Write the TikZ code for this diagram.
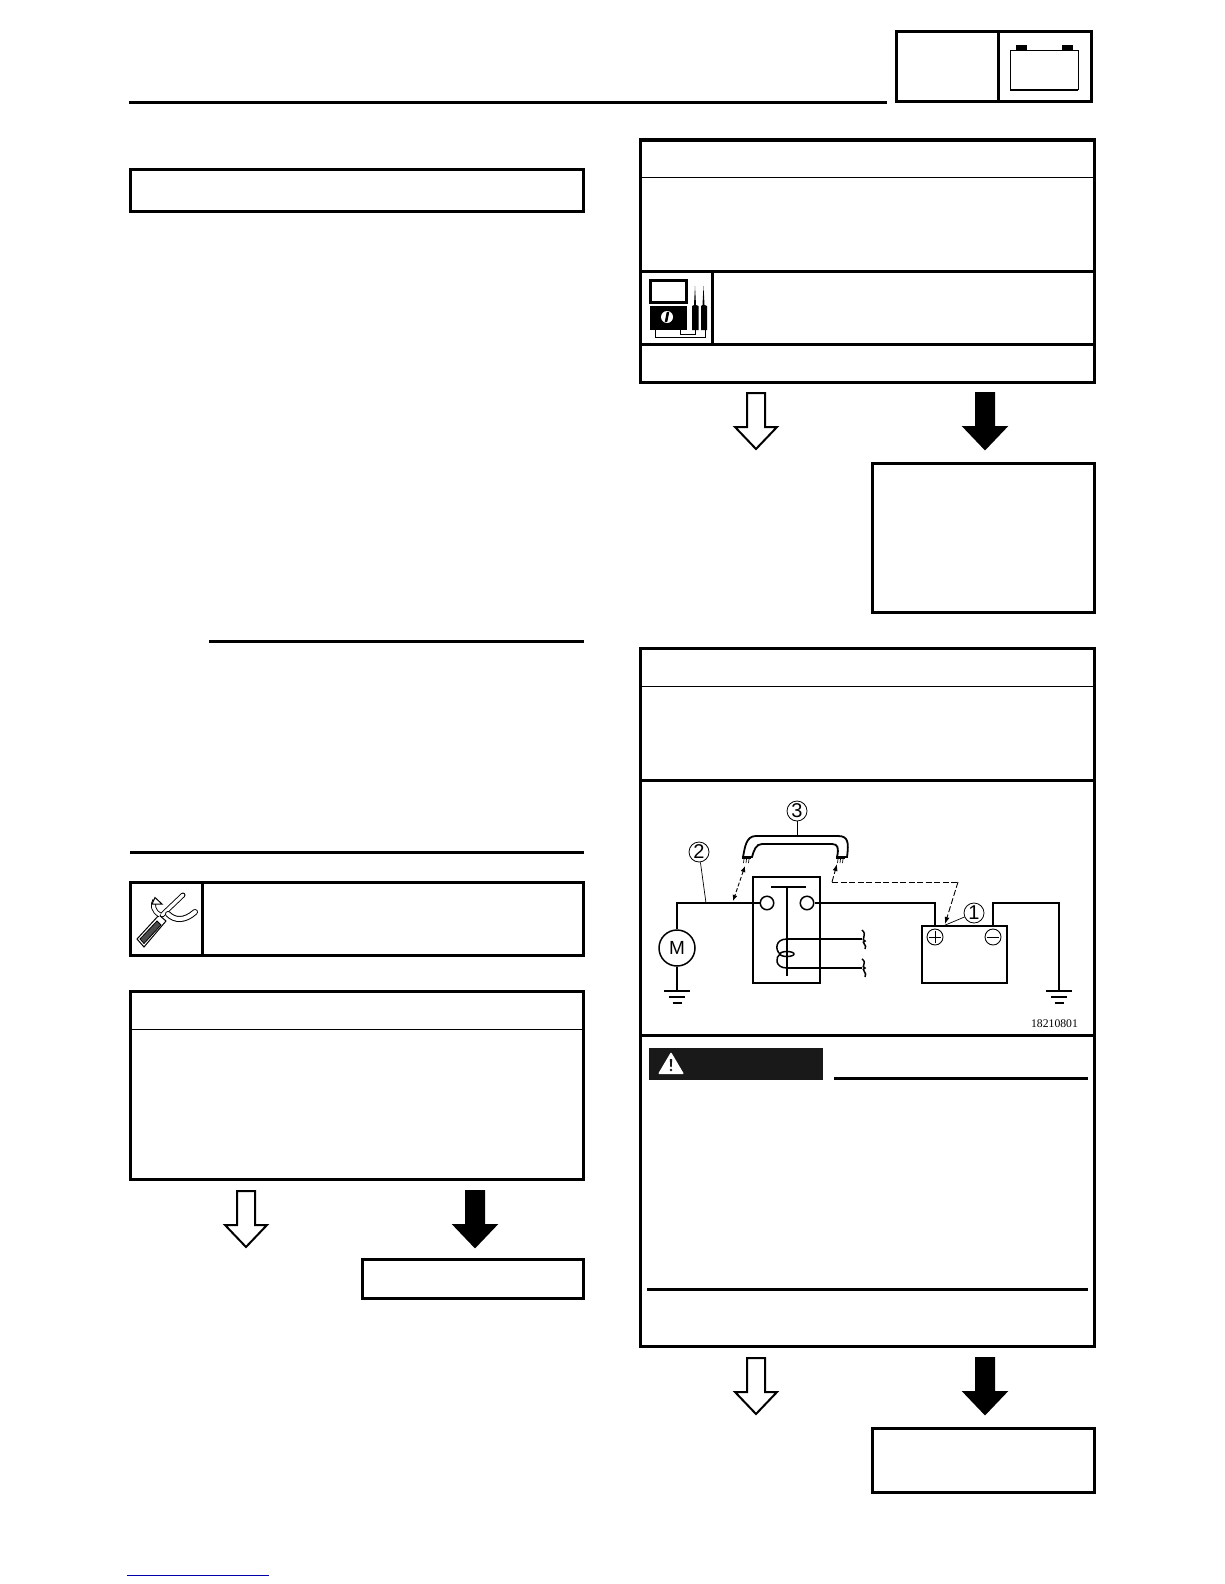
\documentclass[tikz,border=0pt]{standalone}
\usepackage{fontspec}
\setmainfont{Liberation Sans}
\newfontfamily\partnofont{Liberation Serif}
\usetikzlibrary{arrows.meta}
\tikzset{
	frameline/.style={line width=3pt},
	thinline/.style={line width=1pt},
	wire/.style={line width=1.5pt},
	leader/.style={line width=0.7pt},
	callout/.style={draw, circle, line width=0.8pt, inner sep=0pt, minimum size=20pt, font=\fontsize{20}{20}\selectfont},
	probe/.style={line width=0.9pt, dash pattern=on 6pt off 2.5pt}
}
\def\testarrow[#1](#2,#3){\draw[line width=2pt, #1] (#2-9, #3) -- (#2+9, #3) -- (#2+9, #3+34) -- (#2+21, #3+34) -- (#2, #3+56) -- (#2-21, #3+34) -- (#2-9, #3+34) -- cycle;}
\def\earth(#1,#2)(#3){\draw[wire] (#1-#3, #2) -- (#1+#3, #2);
	\draw[wire] (#1-#3+5, #2+6) -- (#1+#3-5, #2+6);
	\draw[wire] (#1-#3+8.5, #2+12) -- (#1+#3-8.5, #2+12);}

\begin{document}
\begin{tikzpicture}[x=1pt, y=-1pt]
	%%%%% START %%%%%
	\useasboundingbox[fill=white] (0, 0) rectangle (1224, 1584);
	
	% page header
	\draw[frameline] (129, 102.5) -- (887, 102.5);
	\draw[frameline] (896, 32) rectangle (1091.5, 102);
	\draw[frameline] (998, 32) -- (998, 102);
	\draw[thinline] (1010, 51) rectangle (1078, 90);
	\draw[line width=1.5pt] (1010, 90) -- (1078, 90);
	\fill (1016, 45) rectangle (1027, 51);
	\fill (1062, 45) rectangle (1073, 51);
	
	% left column
	\draw[frameline] (130, 169.5) rectangle (583, 211);
	\draw[frameline] (209, 641) -- (584, 641);
	\draw[frameline] (130, 852) -- (584, 852);
	
	\draw[frameline] (130, 882.5) rectangle (583, 955);
	\draw[frameline] (202, 882.5) -- (202, 955);
	
	% tool icon
	\draw[line width=5pt, line cap=round] (162, 915) -- (183, 895);
	\draw[line width=3.2pt, white, line cap=round] (162, 915) -- (183, 895);
	\draw[line width=1pt, fill=white] (137, 939) -- (144, 947) -- (166, 921) -- (159, 915) -- cycle;
	\draw[line width=0.8pt, fill=black!70] (140, 939) -- (144, 943.5) -- (161, 925) -- (157, 921) -- cycle;
	\draw[line width=6pt, line cap=round] (168, 914) .. controls (175, 921) and (185, 921) .. (195, 912);
	\draw[line width=4pt, white, line cap=round] (168, 914) .. controls (175, 921) and (185, 921) .. (195, 912);
	\draw[line width=5pt] (160, 915) .. controls (153, 911) and (152, 905) .. (155, 900);
	\draw[line width=3.2pt, white] (160, 915) .. controls (153, 911) and (152, 905) .. (155, 900);
	\draw[line width=1pt, fill=white] (155, 897.5) -- (162, 904) -- (156, 904) -- (152, 904) -- cycle;
	
	\draw[frameline] (130, 991.5) rectangle (583, 1179.5);
	\draw[thinline] (130, 1029.5) -- (583, 1029.5);
	\testarrow[fill=white](246, 1191)
	\testarrow[fill=black](475, 1191)
	\draw[frameline] (362, 1259) rectangle (583, 1298);
	
	% first right box
	\draw[frameline] (640.5, 140) rectangle (1094, 382);
	\draw[thinline] (640.5, 177.5) -- (1094, 177.5);
	\draw[frameline] (640.5, 271) -- (1094, 271);
	\draw[frameline] (640.5, 344) -- (1094, 344);
	\draw[frameline] (712.5, 271) -- (712.5, 344);
	
	% meter
	\draw[line width=3pt] (650, 280) rectangle (686, 302);
	\fill (650, 306) rectangle (687, 330);
	\fill[white] (667, 317) circle (6);
	\draw[line width=2.5pt] (666, 322) -- (668, 312);
	\fill (692, 330) -- (692, 306) -- (694, 305) -- (695, 286) -- (696, 305) -- (698.5, 306) -- (698.5, 330) -- cycle;
	\fill (701, 330) -- (701, 306) -- (702.5, 305) -- (703.5, 286) -- (704.5, 305) -- (707, 306) -- (707, 330) -- cycle;
	\draw[line width=0.7pt] (655, 330) -- (655, 337) -- (705, 337) -- (705, 330);
	\draw[line width=0.7pt] (680, 330) -- (680, 334.5) -- (695, 334.5) -- (695, 330);
	
	\testarrow[fill=white](756, 393)
	\testarrow[fill=black](985, 393)
	\draw[frameline] (872, 463) rectangle (1094, 612);
	
	% second right box
	\draw[frameline] (640.5, 648.5) rectangle (1094, 1346);
	\draw[thinline] (640.5, 686.5) -- (1094, 686.5);
	\draw[frameline] (640.5, 780.5) -- (1094, 780.5);
	\draw[frameline] (640.5, 1035.5) -- (1094, 1035.5);
	\draw[frameline] (647, 1289.5) -- (1088, 1289.5);
	\draw[frameline] (834, 1078.5) -- (1088, 1078.5);
	
	% warning bar
	\fill[black!90] (649, 1048) rectangle (823, 1080);
	\fill[white, rounded corners=1pt] (671, 1052) -- (684, 1074) -- (658, 1074) -- cycle;
	\fill[black!90] (669.8, 1059) -- (672.2, 1059) -- (671.7, 1067) -- (670.3, 1067) -- cycle;
	\fill[black!90] (671, 1070) circle (1.4);
	
	% wiring diagram
	\node[draw, circle, line width=1.5pt, inner sep=0pt, minimum size=36pt, font=\fontsize{19}{19}\selectfont] (motor) at (677, 948) {M};
	\node[callout] (callone) at (974, 913) {1};
	\node[callout] (calltwo) at (699, 852) {2};
	\node[callout] (callthree) at (797, 811) {3};
	\node[draw, circle, line width=1.5pt, inner sep=0pt, minimum size=13.5pt] (relayleft) at (767, 903) {};
	\node[draw, circle, line width=1.5pt, inner sep=0pt, minimum size=13.5pt] (relayright) at (807, 903) {};
	\node[draw, circle, line width=0.9pt, inner sep=0pt, minimum size=16pt] (plus) at (935, 937) {};
	\node[draw, circle, line width=0.9pt, inner sep=0pt, minimum size=16pt] (minus) at (993, 937) {};
	\node[font=\partnofont\fontsize{11.7}{12}\selectfont, inner sep=0pt] (partno) at (1054.5, 1024) {18210801};
	
	\draw[leader] (plus.west) ++(2, 0) -- ++(12, 0) (plus.north) ++(0, 2) -- ++(0, 12);
	\draw[leader] (minus.west) ++(2, 0) -- ++(12, 0);
	
	\draw[wire] (relayleft.west) -- (677, 903) -- (motor.north);
	\draw[wire] (motor.south) -- (677, 991);
	\earth(677, 991)(13)
	\draw[wire] (relayright.east) -- (935, 903) -- (935, 926);
	\draw[wire] (993, 926) -- (993, 903) -- (1059, 903) -- (1059, 991);
	\earth(1059, 991)(13)
	
	% relay
	\draw[wire] (753, 877) rectangle (820, 983);
	\draw[wire] (771, 887) -- (806, 887);
	\draw[wire] (787, 887) -- (787, 976);
	\draw[wire] (787, 939) -- (862, 939);
	\draw[wire] (787, 968) -- (862, 968);
	\draw[wire] (787, 939) .. controls (775, 939) and (775, 950) .. (780, 954);
	\draw[wire] (787, 968) .. controls (775, 968) and (775, 957) .. (780, 954);
	\draw[wire] (787, 954) ellipse (7 and 2.5);
	\draw[wire] (862, 930) .. controls (868, 935) and (860, 940) .. (865, 941) .. controls (860, 942) and (868, 945) .. (865, 949);
	\draw[wire] (862, 959) .. controls (868, 963) and (860, 967) .. (865, 968) .. controls (860, 969) and (868, 973) .. (865, 977);
	
	% battery
	\draw[wire] (922, 926) rectangle (1007, 983);
	
	% jumper lead
	\draw[line width=1.8pt, fill=white] (743, 857) .. controls (745, 847) and (746, 836) .. (756, 836) -- (838, 836) .. controls (848, 836) and (849, 842) .. (847, 857) -- (837, 857) .. controls (839, 848) and (838, 844) .. (832, 844) -- (762, 844) .. controls (756, 844) and (754, 850) .. (752, 857) -- cycle;
	\draw[wire] (742, 858) -- (751, 858) (836, 858) -- (845, 858);
	\foreach \tipx in {744, 746.5, 749, 838, 840.5, 843} {
		\draw[leader] (\tipx, 859) -- (\tipx-0.5, 863);
	}
	
	% test connections
	\draw[line width=0.9pt, dash pattern=on 4pt off 2pt, {Latex[length=6pt,width=5pt]}-{Latex[length=6pt,width=5pt]}] (745, 866) -- (733, 901);
	\draw[probe, -{Latex[length=7pt,width=5pt]}] (832, 882) -- (837, 864);
	\draw[probe] (832, 882) -- (958, 882);
	\draw[probe, -{Latex[length=7pt,width=5pt]}] (958, 882) -- (945, 924);
	
	% call-out leaders
	\draw[leader] (callone) -- (943, 926);
	\draw[leader] (calltwo) -- (706, 903);
	\draw[leader] (callthree) -- (797, 836);
	
	\testarrow[fill=white](756, 1358)
	\testarrow[fill=black](985, 1358)
	\draw[frameline] (872, 1428) rectangle (1094, 1492.5);
	
	% footer link
	\draw[line width=1pt, color=blue!65!black] (127, 1575) -- (269, 1575);
	
	%%%%% END %%%%%
\end{tikzpicture}
\end{document}
